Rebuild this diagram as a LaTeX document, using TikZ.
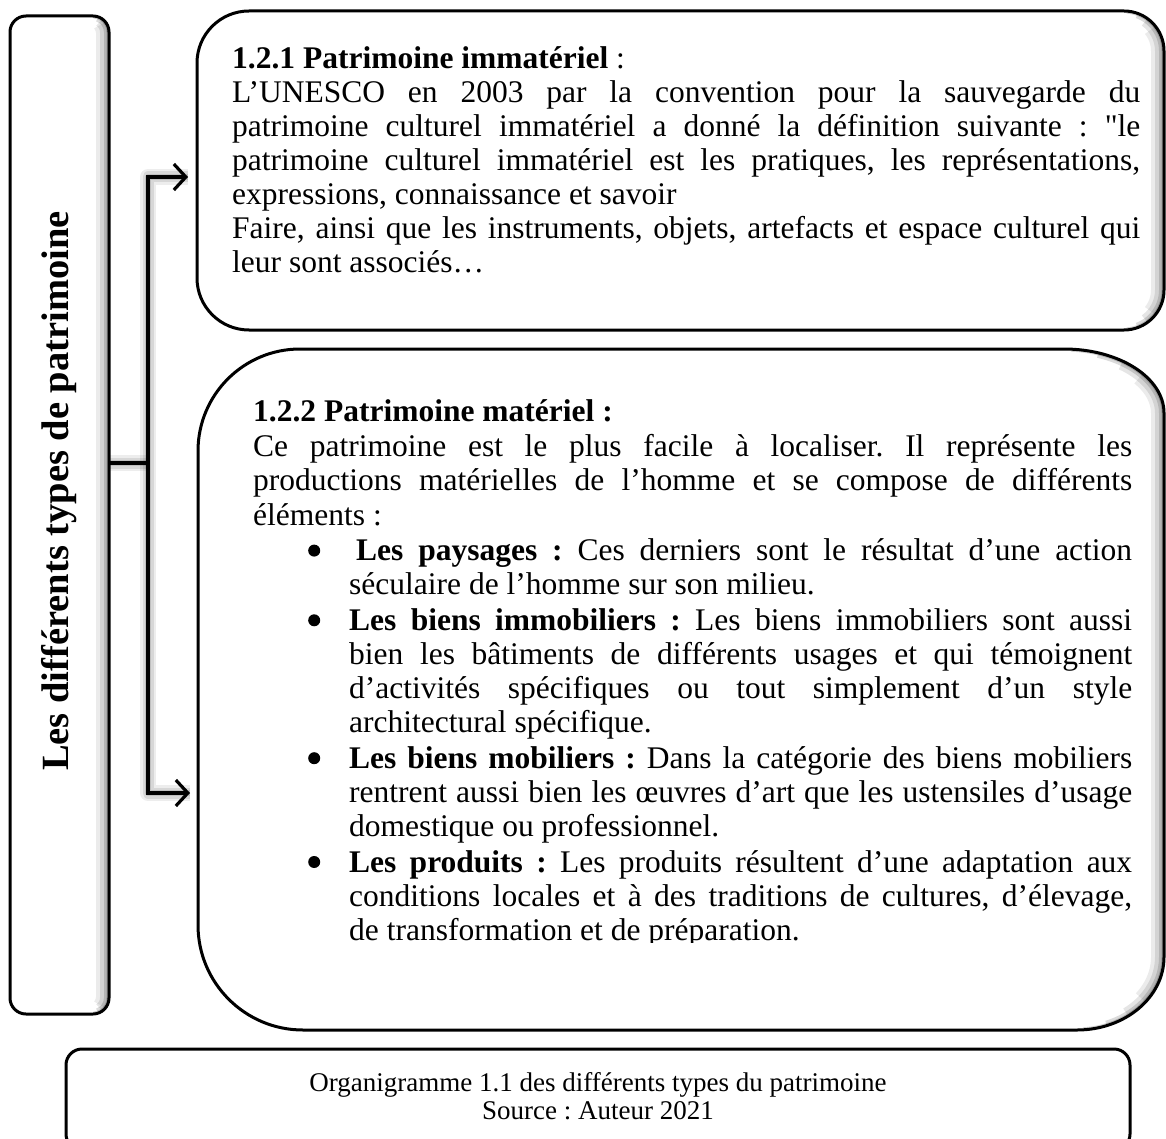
\documentclass[tikz,border=0pt]{standalone}
\usepackage{fontspec}
\setmainfont{Liberation Serif}
\newfontfamily\qfont{Liberation Serif}[Ligatures=TeXOff]
\usetikzlibrary{arrows.meta,calc}
\pgfdeclarelayer{bg}
\pgfsetlayers{bg,main}
\newcommand\bodyfont{\fontsize{31.5}{34.1}\selectfont}
\newcommand\setpar{\frenchspacing\parindent=0pt\tolerance=10000\hbadness=10000\hyphenpenalty=10000\exhyphenpenalty=10000}
\newcommand\bulitem{\par\vspace{1.5pt}\noindent\llap{\makebox[41pt][l]{\tikz[baseline=-10pt]\fill (6pt,0pt) circle[radius=6pt];}}}
% right-side inner shade: #1,#2 centre of upper-right corner, #3/#4 its radii; #5,#6 centre of lower-right corner, #7/#8 its radii
\newcommand\rshade[8]{\foreach \w/\o/\a/\b in {26/0.08/322/38,18/0.1/306/54,10/0.14/290/70,5/0.18/274/86}{%
  \draw[line width=\w pt, black, opacity=\o, line cap=butt]
    ($(#1,#2)+(\a:#3 and #4)$) arc[start angle=\a, end angle=360, x radius=#3, y radius=#4]
    -- ($(#5,#6)+(0:#7 and #8)$) arc[start angle=0, end angle=\b, x radius=#7, y radius=#8];}}
\newcommand\lineshade[1]{\foreach \w/\o in {16/0.07,11/0.09,6/0.11}{\draw[line width=\w pt, black, opacity=\o, line join=round] #1;}}
\tikzset{
  geom/.style={draw=none, inner sep=0pt, outer sep=0pt},
  boxline/.style={line width=3pt, black},
  conn/.style={line width=3.4pt, black},
  tipped/.style={-{Straight Barb[length=12pt,width=26pt,line width=3.2pt]}},
  txt/.style={anchor=north west, inner sep=0pt, align=justify, font=\bodyfont},
}
\def\typespath{[rounded corners=16pt] (10,16) rectangle (109,1014)}
\def\immpath{(197,170) [rounded corners=52pt] |- (680,11) [rounded corners=40pt] -| (1164,170) |- (680,330) [rounded corners=52pt] -| (197,170) -- cycle}
\def\matpath{(300,349) -- (1064,349) arc[start angle=270,end angle=360,x radius=100,y radius=64] -- (1164,957) arc[start angle=0,end angle=90,x radius=87,y radius=73] -- (303,1030) arc[start angle=90,end angle=180,radius=105] -- (198,451) arc[start angle=180,end angle=270,radius=102] -- cycle}
\begin{document}
\frenchspacing
\begin{tikzpicture}[x=1pt,y=-1pt]
\useasboundingbox (0,0) rectangle (1166,1139);
\clip (0,0) rectangle (1166,1139);

% geometry nodes
\node[geom, minimum width=99pt, minimum height=998pt] (types) at (59.5,515) {};
\node[geom, minimum width=967pt, minimum height=319pt] (imm) at (680.5,170.5) {};
\node[geom, minimum width=966pt, minimum height=681pt] (mat) at (681,689.5) {};
\node[boxline, draw, rounded corners=16pt, minimum width=1064pt, minimum height=101pt, inner sep=0pt] (cap) at (598,1099.5) {};

% outlines
\draw[boxline] \typespath;
\draw[boxline] \immpath;
\draw[boxline] \matpath;

% texts
\node[rotate=90, anchor=base, font=\fontsize{38.5}{40}\selectfont\bfseries] (title) at (68,491) {Les différents types de patrimoine};

\node[txt, text width=908pt, font=\fontsize{31.5}{34}\selectfont] (immtxt) at (232,42) {\setpar\rule{0pt}{26pt}\textbf{1.2.1 Patrimoine immatériel} :\par
L’UNESCO en 2003 par la convention pour la sauvegarde du\linebreak
patrimoine culturel immatériel a donné la définition suivante : {\qfont"}le\linebreak
patrimoine culturel immatériel est les pratiques, les représentations,\linebreak
expressions, connaissance et savoir\par
Faire, ainsi que les instruments, objets, artefacts et espace culturel qui\linebreak
leur sont associés…\par};

\begin{scope}
\clip (190,340) rectangle (1166,942);
\node[txt, text width=879pt] (mattxt) at (253,395) {\setpar\rule{0pt}{26pt}\textbf{1.2.2 Patrimoine matériel :}\par\vspace{1.5pt}
Ce patrimoine est le plus facile à localiser. Il représente les\linebreak
productions matérielles de l’homme et se compose de différents\linebreak
éléments :\par
\leftskip=96pt
\bulitem\hspace{7pt}\textbf{Les paysages :} Ces derniers sont le résultat d’une action\linebreak
séculaire de l’homme sur son milieu.
\bulitem\textbf{Les biens immobiliers :} Les biens immobiliers sont aussi\linebreak
bien les bâtiments de différents usages et qui témoignent\linebreak
d’activités spécifiques ou tout simplement d’un style\linebreak
architectural spécifique.
\bulitem\textbf{Les biens mobiliers :} Dans la catégorie des biens mobiliers\linebreak
rentrent aussi bien les œuvres d’art que les ustensiles d’usage\linebreak
domestique ou professionnel.
\bulitem\textbf{Les produits :} Les produits résultent d’une adaptation aux\linebreak
conditions locales et à des traditions de cultures, d’élevage,\linebreak
de transformation et de préparation.\par};
\end{scope}

\node[align=center, inner sep=0pt, font=\fontsize{27}{28.5}\selectfont] (captext) at (598,1096) {Organigramme 1.1 des différents types du patrimoine\\Source : Auteur 2021};

% connectors
\coordinate (j) at (148,463);
\coordinate (a1) at ($(imm.west)+(-9,6.5)$);
\coordinate (a2) at ($(mat.west)+(-8,103.5)$);
\draw[conn] (types.east |- j) -- (j);
\draw[conn, tipped] (j) |- (a1);
\draw[conn, tipped] (j) |- (a2);

% shadows
\begin{pgfonlayer}{bg}
  \fill[white] (0,0) rectangle (1166,1139);
  \begin{scope}
    \clip \typespath;
    \rshade{93}{32}{16}{16}{93}{998}{16}{16}
  \end{scope}
  \begin{scope}
    \clip \immpath;
    \rshade{1124}{51}{40}{40}{1124}{290}{40}{40}
  \end{scope}
  \begin{scope}
    \clip \matpath;
    \rshade{1064}{413}{100}{64}{1077}{957}{87}{73}
  \end{scope}
  \begin{scope}[shift={(-4,4)}]
    \lineshade{(types.east |- j) -- (j)}
    \lineshade{(a1) -| (j) |- (a2)}
  \end{scope}
\end{pgfonlayer}
\end{tikzpicture}
\end{document}
